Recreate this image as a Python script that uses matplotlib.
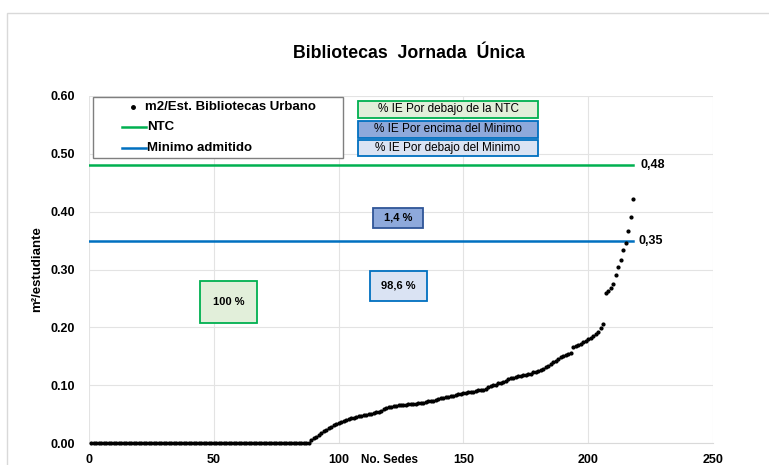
import matplotlib
matplotlib.use("Agg")
import matplotlib.pyplot as plt
from matplotlib.patches import Rectangle

plt.rcParams['font.family'] = ['Liberation Sans', 'DejaVu Sans']

# --- datos ---
n_ceros = 88
valores_no_cero = [
    0.005, 0.008, 0.011, 0.014, 0.017, 0.020, 0.023, 0.026, 0.028, 0.031,
    0.033, 0.035, 0.037, 0.038, 0.040, 0.042, 0.043, 0.044, 0.045, 0.046,
    0.047, 0.048, 0.049, 0.050, 0.051, 0.052, 0.053, 0.054, 0.056, 0.058,
    0.060, 0.062, 0.063, 0.064, 0.064, 0.065, 0.065, 0.066, 0.066, 0.067,
    0.067, 0.068, 0.068, 0.069, 0.069, 0.070, 0.071, 0.072, 0.072, 0.073,
    0.074, 0.076, 0.077, 0.078, 0.079, 0.080, 0.081, 0.082, 0.083, 0.084,
    0.085, 0.086, 0.087, 0.088, 0.088, 0.089, 0.090, 0.091, 0.091, 0.092,
    0.094, 0.096, 0.098, 0.100, 0.101, 0.103, 0.104, 0.106, 0.108, 0.110,
    0.112, 0.113, 0.114, 0.115, 0.116, 0.117, 0.118, 0.119, 0.120, 0.122,
    0.123, 0.125, 0.126, 0.128, 0.131, 0.134, 0.137, 0.140, 0.142, 0.145,
    0.148, 0.150, 0.152, 0.154, 0.155,
    0.166, 0.168, 0.170, 0.172, 0.174, 0.176, 0.179, 0.182, 0.185, 0.188,
    0.192, 0.198, 0.206,
    0.260, 0.263, 0.268, 0.275, 0.290, 0.305, 0.317, 0.334, 0.346, 0.367,
    0.391, 0.422,
]
m2_est = [0.0] * n_ceros + valores_no_cero
sedes = list(range(1, len(m2_est) + 1))

ntc = 0.48
minimo = 0.35
pct_bajo_ntc = "100 %"
pct_encima_min = "1,4 %"
pct_bajo_min = "98,6 %"

verde = '#00B050'
azul = '#0070C0'

fig = plt.figure(figsize=(7.69, 4.65), dpi=100)
ax = fig.add_axes([89 / 769, 22 / 465, 624 / 769, 347 / 465])

# borde exterior del gráfico
fig.patches.append(Rectangle((7 / 769, -0.1), 1.2, (452 + 465 * 0.1) / 465,
                             transform=fig.transFigure, fill=False,
                             edgecolor='#D9D9D9', linewidth=1.0))

ax.plot(sedes, m2_est, 'o', color='black', markersize=2.0, linestyle='none',
        clip_on=False, zorder=4)
x_fin = sedes[-1]
ax.plot([0, x_fin], [ntc, ntc], color=verde, linewidth=1.8, zorder=3)
ax.plot([0, x_fin], [minimo, minimo], color=azul, linewidth=1.8, zorder=3)

ax.text(x_fin + 3, ntc, "0,48", fontsize=9, fontweight='bold', va='center')
ax.text(x_fin + 2, minimo, "0,35", fontsize=9, fontweight='bold', va='center')

ax.set_xlim(0, 250)
ax.set_ylim(0, 0.60)
ax.set_xticks(range(0, 251, 50))
ax.set_yticks([i / 10 for i in range(7)])
ax.set_yticklabels([f"{i / 10:.2f}" for i in range(7)])
ax.grid(True, color='#E3E3E3', linewidth=0.8)
ax.set_axisbelow(True)
for s in ['top', 'left', 'right']:
    ax.spines[s].set_visible(False)
ax.spines['bottom'].set_color('#D9D9D9')
ax.tick_params(axis='y', length=0, labelsize=9, pad=10)
ax.tick_params(axis='x', length=0, labelsize=9, pad=8)
for lab in ax.get_xticklabels() + ax.get_yticklabels():
    lab.set_fontweight('bold')

ax.set_ylabel("m²/estudiante", fontsize=9.5, fontweight='bold', labelpad=5)
ax.text(120.5, -0.029, "No. Sedes", fontsize=8.5, fontweight='bold',
        ha='center', va='center')
fig.text(409 / 769, 1 - 53 / 465, "Bibliotecas  Jornada  Única", fontsize=12.8,
         fontweight='bold', ha='center', va='center')


def px_x(px):
    return (px - 89) / 2.496


def px_y(py):
    return (443 - py) / 578.3


# leyenda dibujada a mano
ax.add_patch(Rectangle((px_x(93), px_y(158)), px_x(343) - px_x(93),
                       px_y(97) - px_y(158), facecolor='white',
                       edgecolor='#7F7F7F', linewidth=1.0, zorder=5))
ax.plot([px_x(133)], [px_y(107)], 'o', color='black', markersize=2.5, zorder=6)
ax.text(px_x(145), px_y(107), "m2/Est. Bibliotecas Urbano", fontsize=9.5,
        fontweight='bold', va='center', zorder=6)
ax.plot([px_x(122), px_x(146)], [px_y(127), px_y(127)], color=verde,
        linewidth=1.8, zorder=6)
ax.text(px_x(147), px_y(127), "NTC", fontsize=9.5, fontweight='bold',
        va='center', zorder=6)
ax.plot([px_x(122), px_x(146)], [px_y(148), px_y(148)], color=azul,
        linewidth=1.8, zorder=6)
ax.text(px_x(147), px_y(148), "Minimo admitido", fontsize=9.5,
        fontweight='bold', va='center', zorder=6)


def caja(x0, y0, x1, y1, texto, fondo, borde, bold=False, size=8.5, lw=1.3):
    ax.add_patch(Rectangle((px_x(x0), px_y(y1)), px_x(x1) - px_x(x0),
                           px_y(y0) - px_y(y1), facecolor=fondo,
                           edgecolor=borde, linewidth=lw, zorder=5))
    ax.text((px_x(x0) + px_x(x1)) / 2, (px_y(y0) + px_y(y1)) / 2, texto,
            fontsize=size, fontweight='bold' if bold else 'normal',
            ha='center', va='center', zorder=6)


# cajas de referencia (arriba)
caja(358, 101, 538, 118, "% IE Por debajo de la NTC", '#E2EFDA', verde)
caja(358, 121, 538, 138, "% IE Por encima del Minimo", '#8EA9DB', azul)
caja(358, 140, 538, 156, "% IE Por debajo del Minimo", '#DAE3F3', azul)

# porcentajes
caja(200, 281, 257, 323, pct_bajo_ntc, '#E2EFDA', verde, bold=True, size=8)
caja(373, 208, 423, 228, pct_encima_min, '#8EA9DB', '#2F5597', bold=True, size=8)
caja(370, 271, 427, 301, pct_bajo_min, '#DAE3F3', azul, bold=True, size=8)

fig.savefig('out.png', dpi=100)
